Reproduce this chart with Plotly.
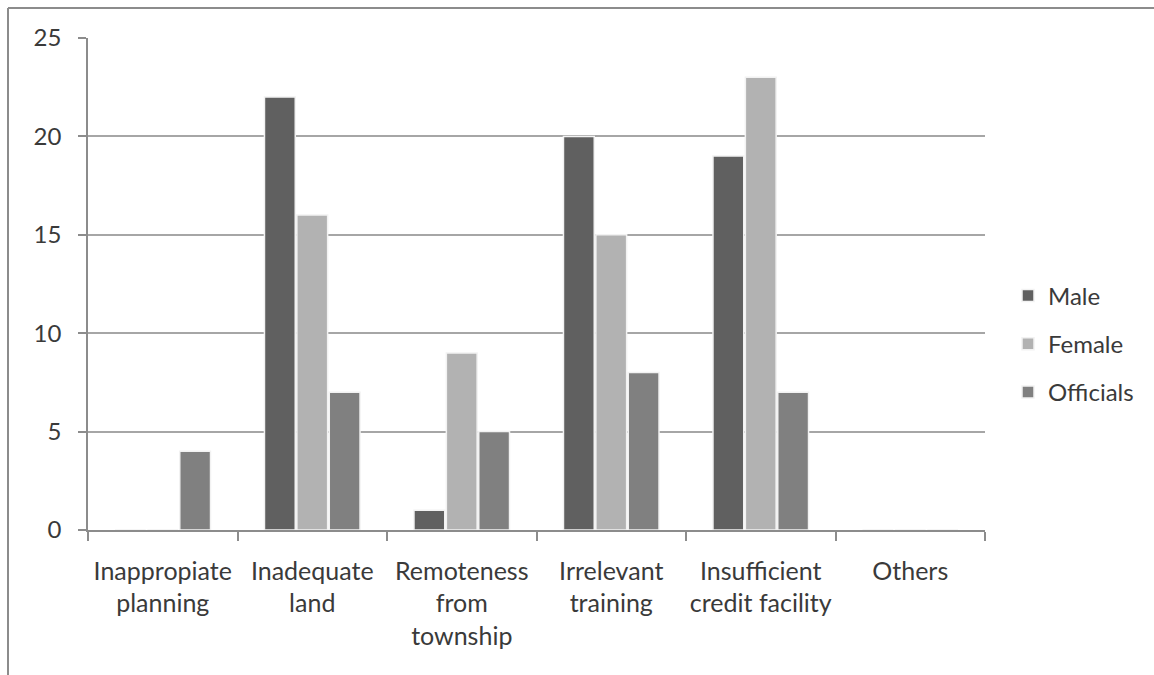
import plotly.graph_objects as go

categories = ["Inappropiate<br>planning", "Inadequate<br>land", "Remoteness<br>from<br>township",
              "Irrelevant<br>training", "Insufficient<br>credit facility", "Others"]
male = [0, 22, 1, 20, 19, 0]
female = [0, 16, 9, 15, 23, 0]
officials = [4, 7, 5, 8, 7, 0]
series_names = ["Male", "Female", "Officials"]
series_colors = ["#606060", "#b2b2b2", "#808080"]

W, H = 1154, 675
L, R, T, B = 88, 985, 38, 530

fig = go.Figure()
for i, (name, vals, col) in enumerate(zip(series_names, [male, female, officials], series_colors)):
    fig.add_trace(go.Bar(
        x=categories, y=vals, name=name, legendgroup=name,
        marker=dict(color=col, line=dict(color="#f2f2f2", width=1.5)),
    ))

def px2x(px):
    return (px - L) / (R - L)

def px2y(py):
    return (B - py) / (B - T)

frame_col = "#8c8c8c"
shapes = [
    dict(type="line", xref="paper", yref="paper", x0=px2x(8), x1=px2x(W + 5), y0=px2y(8), y1=px2y(8),
         line=dict(color=frame_col, width=2)),
    dict(type="line", xref="paper", yref="paper", x0=px2x(8), x1=px2x(8), y0=px2y(8), y1=px2y(H + 5),
         line=dict(color=frame_col, width=2)),
]

font_col = "#3a3a3a"
fig.update_layout(
    width=W, height=H,
    margin=dict(l=L, r=W - R, t=T, b=H - B, pad=0, autoexpand=False),
    paper_bgcolor="white", plot_bgcolor="white",
    font=dict(family="Lato, sans-serif", size=25, color=font_col),
    barmode="group", bargap=0.35, bargroupgap=0.05,
    showlegend=True,
    legend=dict(x=px2x(1008), y=px2y(344), xanchor="left", yanchor="middle",
                font=dict(size=24, color=font_col), tracegroupgap=14,
                bgcolor="rgba(0,0,0,0)"),
    shapes=shapes,
)
fig.update_xaxes(
    showline=True, linecolor="#8c8c8c", linewidth=1.5,
    tickson="boundaries", ticks="outside", ticklen=9, tickcolor="#8c8c8c", tickwidth=1.5,
    ticklabelstandoff=18, showgrid=False, tickangle=0, automargin=False,
)
fig.update_yaxes(
    range=[0, 25], tickvals=[0, 5, 10, 15, 20, 25],
    showline=True, linecolor="#8c8c8c", linewidth=1.5,
    ticks="outside", ticklen=8, tickcolor="#8c8c8c", tickwidth=1.5,
    tickfont=dict(size=24), automargin=False,
    showgrid=True, gridcolor="#a6a6a6", gridwidth=1.5,
    ticklabelstandoff=12, zeroline=False,
)

fig.write_html("out.html", config={"displayModeBar": False},
               post_script="document.body.style.margin='0px';")
